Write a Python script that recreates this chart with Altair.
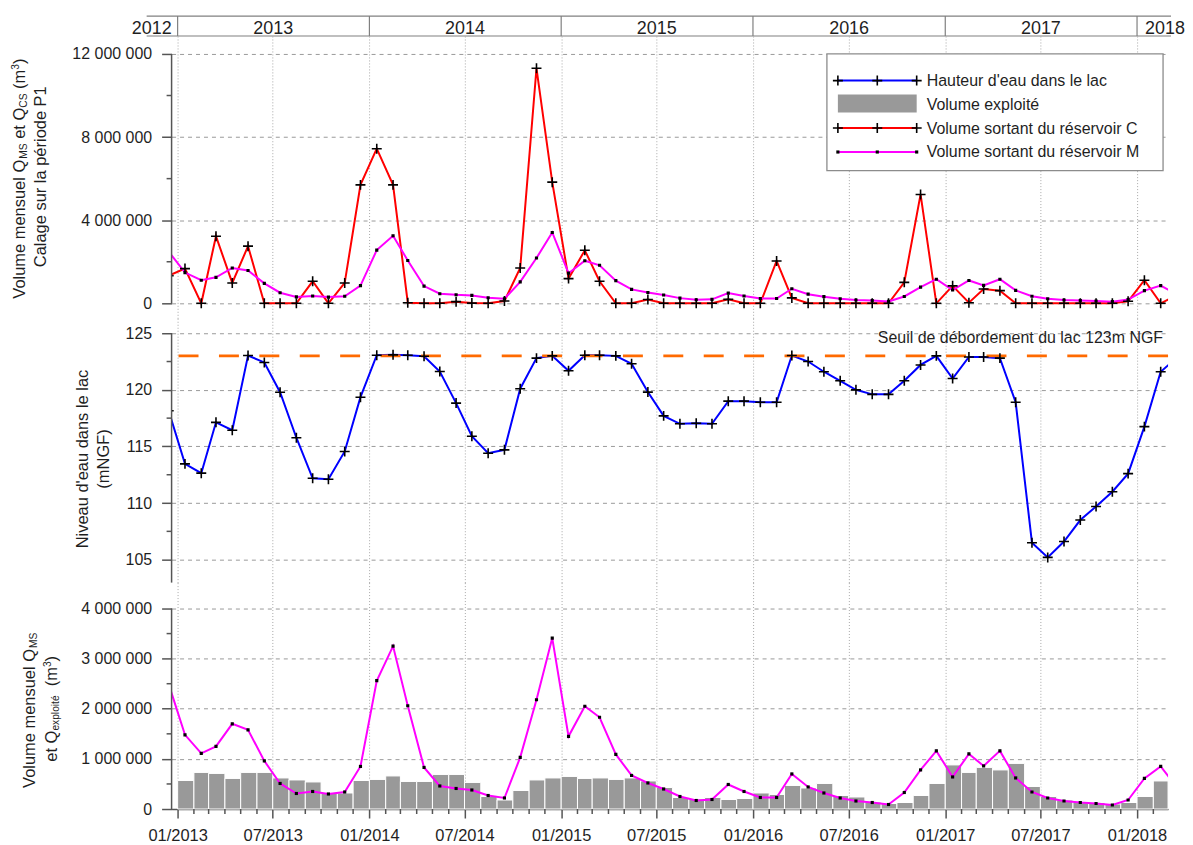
import altair as alt
import pandas as pd

FONT = "Liberation Sans"
TXT = "#1f1f1f"
AX = "#555555"

# ------------------------------------------------------------------ data
# monthly values (mid-month), Dec 2012 .. Mar 2018 (64 months)
first_month = "2012-12"
lake_level = [118.15,
    113.46, 112.64, 117.13, 116.43, 123.03, 122.42, 119.79, 115.77, 112.19, 112.10, 114.56, 119.35,
    123.06, 123.09, 123.06, 122.97, 121.62, 118.83, 115.90, 114.40, 114.70, 120.10, 122.80, 123.00,
    121.68, 123.06, 123.06, 123.00, 122.30, 119.80, 117.70, 117.00, 117.05, 117.00, 119.00, 119.00,
    118.90, 118.90, 123.03, 122.50, 121.60, 120.80, 120.00, 119.60, 119.60, 120.80, 122.20, 123.00,
    121.00, 122.90, 122.90, 122.80, 118.90, 106.50, 105.20, 106.60, 108.50, 109.70, 111.00, 112.60,
    116.75, 121.60, 122.73]
# volumes in millions of m3
vol_C = [1.33,
    1.67, 0.00, 3.23, 0.98, 2.75, 0.00, 0.00, 0.00, 1.06, 0.00, 0.98, 5.70,
    7.44, 5.70, 0.03, 0.00, 0.00, 0.08, 0.01, 0.00, 0.11, 1.70, 11.31, 5.83,
    1.19, 2.55, 1.06, 0.00, 0.00, 0.18, 0.00, 0.00, 0.00, 0.00, 0.19, 0.00,
    0.00, 2.04, 0.26, 0.00, 0.00, 0.00, 0.00, 0.00, 0.00, 1.01, 5.24, 0.00,
    0.84, 0.03, 0.69, 0.61, 0.00, 0.00, 0.00, 0.00, 0.00, 0.00, 0.00, 0.10,
    1.11, 0.00, 0.35]
vol_M = [2.49,
    1.48, 1.11, 1.25, 1.70, 1.58, 0.96, 0.51, 0.31, 0.35, 0.30, 0.34, 0.85,
    2.56, 3.25, 2.06, 0.83, 0.46, 0.41, 0.38, 0.27, 0.22, 1.03, 2.18, 3.41,
    1.45, 2.05, 1.83, 1.09, 0.67, 0.52, 0.40, 0.25, 0.17, 0.19, 0.49, 0.35,
    0.23, 0.23, 0.70, 0.44, 0.32, 0.22, 0.16, 0.13, 0.09, 0.33, 0.78, 1.16,
    0.64, 1.10, 0.86, 1.16, 0.62, 0.34, 0.22, 0.16, 0.13, 0.11, 0.08, 0.18,
    0.61, 0.85, 0.47]
# Jan 2013 .. Feb 2018 (62 months)
bars_first_month = "2013-01"
vol_exploite = [
    0.57, 0.73, 0.71, 0.61, 0.73, 0.73, 0.62, 0.58, 0.54, 0.33, 0.32, 0.57,
    0.59, 0.66, 0.55, 0.55, 0.69, 0.69, 0.53, 0.25, 0.18, 0.37, 0.58, 0.62,
    0.65, 0.61, 0.62, 0.59, 0.62, 0.56, 0.43, 0.23, 0.20, 0.23, 0.19, 0.21,
    0.32, 0.29, 0.47, 0.42, 0.51, 0.27, 0.24, 0.14, 0.11, 0.13, 0.27, 0.51,
    0.88, 0.73, 0.83, 0.78, 0.91, 0.45, 0.25, 0.18, 0.14, 0.13, 0.10, 0.13,
    0.25, 0.56]
years = [2012, 2013, 2014, 2015, 2016, 2017, 2018]
threshold = 123
threshold_label = "Seuil de débordement du lac 123m NGF"
legend_labels = ["Hauteur d'eau dans le lac", "Volume exploité",
                 "Volume sortant du réservoir C", "Volume sortant du réservoir M"]
top_major = [0, 4e6, 8e6, 12e6]
top_minor = [2e6, 6e6, 10e6]
mid_major = [105, 110, 115, 120, 125]
mid_minor = [107.5, 112.5, 117.5, 122.5]
bot_major = [0, 1e6, 2e6, 3e6, 4e6]
bot_minor = [0.5e6, 1.5e6, 2.5e6, 3.5e6]

# ------------------------------------------------------------------ tables
months = pd.period_range(first_month, periods=len(lake_level), freq="M")
mid_dates = months.to_timestamp() + pd.Timedelta(days=14)
series = pd.DataFrame({
    "date": mid_dates,
    "level": lake_level,
    "C": [v * 1e6 for v in vol_C],
    "M": [v * 1e6 for v in vol_M],
})
bmonths = pd.period_range(bars_first_month, periods=len(vol_exploite), freq="M")
bars = pd.DataFrame({
    "start": bmonths.to_timestamp(),
    "end": (bmonths + 1).to_timestamp(),
    "v": [v * 1e6 for v in vol_exploite],
})
minor_months = pd.DataFrame({"d": [p.to_timestamp() for p in bmonths if p.month not in (1, 7)]})
ONE = pd.DataFrame({"k": [0]})

W = 999
H_STRIP, H_TOP, H_MID, H_BOT = 20, 283, 265, 227

XSCALE = alt.Scale(domain=[alt.DateTime(year=2012, month=12, date=20, hours=12),
                           alt.DateTime(year=2018, month=3, date=1)])
JJ = [alt.DateTime(year=y, month=m, date=1) for y in range(2013, 2019) for m in (1, 7)
      if not (y == 2018 and m == 7)]

grid_x_axis = alt.Axis(values=JJ, grid=True, gridDash=[1, 2], gridColor="#a8a8a8", gridWidth=1,
                       labels=False, ticks=False, domain=False, title=None)
bottom_x_axis = alt.Axis(values=JJ, grid=True, gridDash=[1, 2], gridColor="#a8a8a8", gridWidth=1,
                         format="%m/%Y", labelFont=FONT, labelFontSize=16.5, labelColor=TXT,
                         tickSize=9, tickColor=AX, tickWidth=1.5, domain=True, domainColor=AX,
                         domainWidth=1.5, labelPadding=10, labelOverlap=False, labelFlush=False,
                         title=None)

SPACE_FMT = "replace(format(datum.value, ',d'), regexp(',', 'g'), ' ')"


def y_axis(values, expr):
    return alt.Axis(values=values, grid=True, gridDash=[4, 4], gridColor="#9a9a9a", gridWidth=1,
                    tickSize=10, tickColor=AX, tickWidth=1.5, domain=False, labelFont=FONT,
                    labelFontSize=16, labelColor=TXT, labelPadding=10, labelExpr=expr, title=None)


TOP_AX = y_axis(top_major, SPACE_FMT)
MID_AX = y_axis(mid_major, "format(datum.value, 'd')")
BOT_AX = y_axis(bot_major, SPACE_FMT)
TOP_SC = alt.Scale(domain=[-0.72e6, 12.864e6], nice=False, zero=False)
MID_SC = alt.Scale(domain=[102.974, 126.32], nice=False, zero=False)
BOT_SC = alt.Scale(domain=[0, 4.517e6], nice=False, zero=False)


def X(field, axis):
    return alt.X(field, type="temporal", scale=XSCALE, axis=axis, title=None)


def Y(field, scale, axis):
    return alt.Y(field, type="quantitative", scale=scale, axis=axis, title=None)


CROSS = "M-1,0L1,0M0,-1L0,1"

ARIAL = {" ": 278, "(": 333, ")": 333, "'": 191, "A": 667, "C": 722, "F": 611, "G": 778,
         "M": 833, "N": 722, "P": 667, "Q": 778, "S": 667, "V": 667, "a": 556, "b": 556,
         "c": 500, "d": 556, "e": 556, "g": 556, "i": 222, "l": 222, "m": 833, "n": 556,
         "o": 556, "p": 556, "r": 333, "s": 500, "t": 278, "u": 556, "v": 500, "x": 500,
         "é": 556}


def tw(s, size):
    return sum(ARIAL.get(ch, 556) for ch in s) * size / 1000.0


def rotated_title(segments, cx, cy, size=16.5):
    small = size * 0.62
    sizes = [size if k == "n" else small for _, k in segments]
    widths = [tw(t, s) for (t, _), s in zip(segments, sizes)]
    y = cy + sum(widths) / 2
    out = []
    for (t, k), s, w in zip(segments, sizes, widths):
        dx = {"n": 0, "sub": 4.5, "sup": -4}[k]
        lead = tw(t[:len(t) - len(t.lstrip(" "))], s)
        out.append(alt.Chart(ONE).mark_text(text=t.strip(" "), angle=270, align="left",
                                            baseline="middle", font=FONT, fontSize=s, color=TXT)
                   .encode(x=alt.value(cx + dx), y=alt.value(y - lead)))
        y -= w
    return out


def vrule(scale, axis, a, b=None, bottom=None):
    df = pd.DataFrame({"a": [a], "b": [b if b is not None else a]})
    enc = dict(y=Y("a", scale, axis), x=alt.value(0))
    if bottom is not None:
        enc["y2"] = alt.value(bottom)
    else:
        enc["y2"] = alt.Y2("b")
    return alt.Chart(df).mark_rule(color=AX, strokeWidth=1.5).encode(**enc)


def minor_ticks(vals, scale, axis):
    return alt.Chart(pd.DataFrame({"v": vals})).mark_rule(color=AX, strokeWidth=1.5).encode(
        y=Y("v", scale, axis), x=alt.value(-5), x2=alt.value(0))


# ------------------------------------------------------------------ year strip
sep_df = pd.DataFrame({"d": pd.to_datetime([f"{y}-01-01" for y in years[1:]])})
ylab_df = pd.DataFrame({"d": pd.to_datetime([f"{y}-07-02" for y in years[1:-1]]),
                        "t": [str(y) for y in years[1:-1]]})
first_df = pd.DataFrame({"d": pd.to_datetime([f"{years[1]}-01-01"]), "t": [str(years[0])]})
last_df = pd.DataFrame({"d": pd.to_datetime([f"{years[-1]}-01-01"]), "t": [str(years[-1])]})
STRIP_C = "#808080"
strip = alt.layer(
    alt.Chart(ONE).mark_rule(color=STRIP_C, strokeWidth=1.2).encode(
        x=alt.value(-25), x2=alt.value(1002), y=alt.value(0)),
    alt.Chart(ONE).mark_rule(color=STRIP_C, strokeWidth=1.2).encode(
        x=alt.value(-25), x2=alt.value(1002), y=alt.value(H_STRIP)),
    alt.Chart(sep_df).mark_rule(color=STRIP_C, strokeWidth=1.2).encode(
        x=X("d", None), y=alt.value(0), y2=alt.value(H_STRIP)),
    alt.Chart(ylab_df).mark_text(font=FONT, fontSize=18, color=TXT, baseline="middle").encode(
        x=X("d", None), y=alt.value(13), text="t:N"),
    alt.Chart(first_df).mark_text(font=FONT, fontSize=18, color=TXT, baseline="middle",
                                  align="right", dx=-6).encode(
        x=X("d", None), y=alt.value(13), text="t:N"),
    alt.Chart(last_df).mark_text(font=FONT, fontSize=18, color=TXT, baseline="middle",
                                 align="left", dx=8).encode(
        x=X("d", None), y=alt.value(13), text="t:N"),
).properties(width=W, height=H_STRIP)

# ------------------------------------------------------------------ top panel
base_top = alt.Chart(series)
top_layers = [
    base_top.mark_line(color="#ff0000", strokeWidth=2, clip=True).encode(
        x=X("date", grid_x_axis), y=Y("C", TOP_SC, TOP_AX)),
    base_top.mark_line(color="#ff00ff", strokeWidth=2, clip=True).encode(
        x=X("date", grid_x_axis), y=Y("M", TOP_SC, TOP_AX)),
    base_top.mark_point(shape=CROSS, filled=False, color="black", size=100, strokeWidth=1.6,
                        opacity=1, clip=True).encode(
        x=X("date", grid_x_axis), y=Y("C", TOP_SC, TOP_AX)),
    base_top.mark_square(size=10, color="black", opacity=1, clip=True).encode(
        x=X("date", grid_x_axis), y=Y("M", TOP_SC, TOP_AX)),
    minor_ticks(top_minor, TOP_SC, TOP_AX),
    vrule(TOP_SC, TOP_AX, 0, 12e6),
]
# legend (drawn inside the top panel)
LX0, LX1, LY0, LY1 = 657, 994, 18, 135
SX0, SX1, TX = 668, 747, 757
rows = [44.7, 68.2, 92.3, 116.3]
top_layers.append(alt.Chart(ONE).mark_rect(fill="white", stroke="#8c8c8c", strokeWidth=1.3).encode(
    x=alt.value(LX0), x2=alt.value(LX1), y=alt.value(LY0), y2=alt.value(LY1)))
line_colors = {0: "#0000ff", 2: "#ff0000", 3: "#ff00ff"}
for i, col in line_colors.items():
    top_layers.append(alt.Chart(ONE).mark_rule(color=col, strokeWidth=2).encode(
        x=alt.value(SX0), x2=alt.value(SX1), y=alt.value(rows[i])))
    for px in (SX0, (SX0 + SX1) / 2, SX1):
        if i == 3:
            mk = alt.Chart(ONE).mark_square(size=10, color="black", opacity=1)
        else:
            mk = alt.Chart(ONE).mark_point(shape=CROSS, filled=False, color="black", size=100,
                                           strokeWidth=1.6, opacity=1)
        top_layers.append(mk.encode(x=alt.value(px), y=alt.value(rows[i])))
top_layers.append(alt.Chart(ONE).mark_rect(fill="#999999").encode(
    x=alt.value(SX0), x2=alt.value(SX1), y=alt.value(rows[1] - 9.5), y2=alt.value(rows[1] + 8.5)))
for i, lab in enumerate(legend_labels):
    top_layers.append(alt.Chart(ONE).mark_text(text=lab, align="left", baseline="middle",
                                               font=FONT, fontSize=16, color=TXT).encode(
        x=alt.value(TX), y=alt.value(rows[i] + 0.5)))
top_layers += rotated_title([("Volume mensuel Q", "n"), ("MS", "sub"), (" et Q", "n"),
                             ("CS", "sub"), (" (m", "n"), ("3", "sup"), (")", "n")], -152, 143)
top_layers += rotated_title([("Calage sur la période P1", "n")], -131, 141)
top = alt.layer(*top_layers).properties(width=W, height=H_TOP)

# ------------------------------------------------------------------ middle panel
base_mid = alt.Chart(series)
thr_df = pd.DataFrame({"t": [threshold]})
mid_layers = [
    base_mid.mark_line(color="#0000ff", strokeWidth=2, clip=True).encode(
        x=X("date", grid_x_axis), y=Y("level", MID_SC, MID_AX)),
    alt.Chart(thr_df).mark_rule(color="#ff6a00", strokeWidth=2.6, strokeDash=[20, 20.5]).encode(
        y=Y("t", MID_SC, MID_AX)),
    base_mid.mark_point(shape=CROSS, filled=False, color="black", size=100, strokeWidth=1.6,
                        opacity=1, clip=True).encode(
        x=X("date", grid_x_axis), y=Y("level", MID_SC, MID_AX)),
    minor_ticks(mid_minor, MID_SC, MID_AX),
    vrule(MID_SC, MID_AX, 125, bottom=H_MID),
    alt.Chart(ONE).mark_text(text=threshold_label, align="right", baseline="middle", font=FONT,
                             fontSize=16, color=TXT).encode(x=alt.value(994), y=alt.value(20)),
]
mid_layers += rotated_title([("Niveau d'eau dans le lac", "n")], -89, 141)
mid_layers += rotated_title([("(mNGF)", "n")], -68, 141)
mid = alt.layer(*mid_layers).properties(width=W, height=H_MID)

# ------------------------------------------------------------------ bottom panel
bot_layers = [
    alt.Chart(bars).mark_rect(fill="#999999", stroke="white", strokeWidth=1).encode(
        x=X("start", bottom_x_axis), x2="end", y=Y("v", BOT_SC, BOT_AX), y2=alt.value(H_BOT)),
    alt.Chart(series).mark_line(color="#ff00ff", strokeWidth=2, clip=True).encode(
        x=X("date", bottom_x_axis), y=Y("M", BOT_SC, BOT_AX)),
    alt.Chart(series).mark_square(size=10, color="black", opacity=1, clip=True).encode(
        x=X("date", bottom_x_axis), y=Y("M", BOT_SC, BOT_AX)),
    minor_ticks(bot_minor, BOT_SC, BOT_AX),
    vrule(BOT_SC, BOT_AX, 0, 4e6),
    alt.Chart(minor_months).mark_rule(color=AX, strokeWidth=1.5).encode(
        x=X("d", bottom_x_axis), y=alt.value(H_BOT), y2=alt.value(H_BOT + 5)),
]
bot_layers += rotated_title([("Volume mensuel Q", "n"), ("MS", "sub")], -142, 128)
bot_layers += rotated_title([("et Q", "n"), ("exploité", "sub"), ("  (m", "n"), ("3", "sup"),
                             (")", "n")], -120, 126.5)
bot = alt.layer(*bot_layers).properties(width=W, height=H_BOT)

chart = alt.vconcat(strip, top, mid, bot, spacing=0, bounds="flush").properties(
    padding={"left": 3, "top": 6, "right": 0, "bottom": 0},
    background="white",
).configure_view(stroke=None)

chart.save("out.html", embed_options={"renderer": "svg", "actions": False})
